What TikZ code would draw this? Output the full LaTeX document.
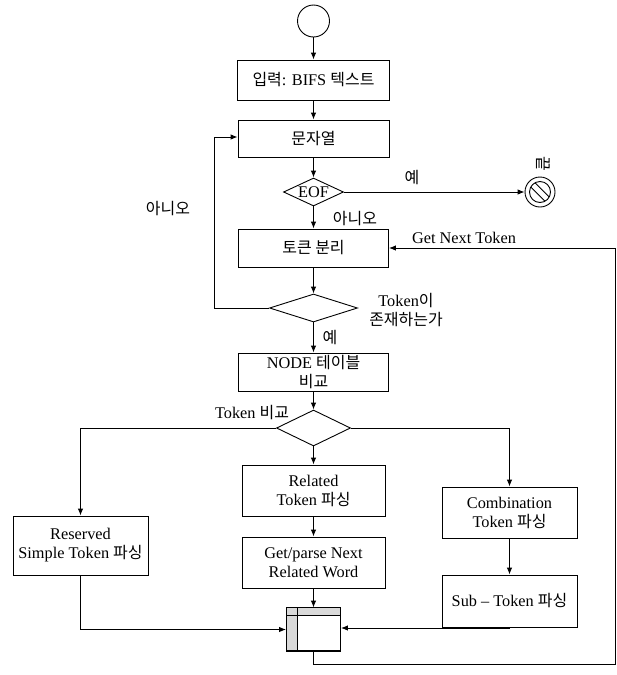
\documentclass[tikz,border=0pt]{standalone}
\usepackage{fontspec}
\setmainfont{Liberation Serif}
\newfontfamily\kr[Scale=0.98]{Noto Sans CJK KR}
\usetikzlibrary{shapes.geometric,arrows.meta}

\begin{document}
\begin{tikzpicture}[x=1pt,y=-1pt,line width=0.9pt,
  font=\fontsize{16.3}{19}\selectfont,
  box/.style={draw,rectangle,inner sep=0pt,align=center},
  dia/.style={draw,diamond,inner sep=0pt,aspect=2.5},
  arr/.style={-{Latex[length=7pt,width=5.5pt]}},
  lbl/.style={inner sep=0pt,align=center}]
\useasboundingbox (0,0) rectangle (617,675);

% main column
\node[draw,circle,minimum size=32pt,inner sep=0pt] (start) at (313.5,21) {};
\node[box,minimum width=152pt,minimum height=40pt] (input) at (313.5,80) {{\kr 입력}: BIFS {\kr 텍스트}};
\node[box,minimum width=151pt,minimum height=37pt] (str) at (313.5,138.5) {\kr 문자열};
\node[dia,minimum width=60pt,minimum height=28pt] (eof) at (313.5,192) {EOF};
\node[box,minimum width=150pt,minimum height=38pt] (split) at (313.5,248) {\kr 토큰 분리};
\node[dia,minimum width=88pt,minimum height=28pt] (exist) at (313.5,308) {};
\node[box,minimum width=150pt,minimum height=38pt] (nodecmp) at (313.5,372) {NODE {\kr 테이블}\\{\kr 비교}};
\node[dia,minimum width=74pt,minimum height=36pt] (cmp) at (313.5,428) {};
\node[box,minimum width=143pt,minimum height=51pt] (related) at (313.5,490.5) {Related\\Token {\kr 파싱}};
\node[box,minimum width=143pt,minimum height=51pt] (getnext) at (313.5,562.5) {Get/parse Next\\Related Word};
\node[box,minimum width=54pt,minimum height=43pt] (join) at (313.5,629.5) {};

% side branches
\node[box,minimum width=135pt,minimum height=59pt] (reserved) at (80.5,545.5) {Reserved\\Simple Token {\kr 파싱}};
\node[box,minimum width=135pt,minimum height=51pt] (comb) at (509.5,512.5) {Combination\\Token {\kr 파싱}};
\node[box,minimum width=135pt,minimum height=52pt] (sub) at (509.5,601) {Sub -- Token {\kr 파싱}};

% end-of-file terminator (prohibition sign)
\node[draw,circle,minimum size=30pt,inner sep=0pt] (end) at (540,192) {};
\begin{scope}[shift={(end.center)}]
  \draw (0,0) circle (10.5pt);
  \draw (-4.99,-9.23) -- (9.23,4.99);
  \draw (-9.23,-4.99) -- (4.99,9.23);
\end{scope}
\node[lbl,rotate=-90] (endlbl) at (543,164) {\kr 끝};

% join box strips
\begin{scope}[shift={(join.north west)}]
  \fill[gray!30] (0,0) rectangle (11,43);
  \fill[gray!30] (11,0) rectangle (54,8);
  \draw (11,0) -- (11,43);
  \draw (0,8) -- (54,8);
  \draw (0,0) rectangle (54,43);
\end{scope}

% labels
\node[lbl] (yes1) at (412,178) {\kr 예};
\node[lbl] (no1) at (355,219) {\kr 아니오};
\node[lbl] (no2) at (168,209) {\kr 아니오};
\node[lbl] (ask) at (406,310) {Token{\kr 이}\\{\kr 존재하는가}};
\node[lbl] (yes2) at (330,338) {\kr 예};
\node[lbl] (cmplbl) at (252,413) {Token {\kr 비교}};
\node[lbl] (gnt) at (464,238) {Get Next Token};

% connectors
\coordinate (rb) at (615,664);
\draw[arr] (start) -- (input);
\draw[arr] (input) -- (str);
\draw[arr] (str) -- (eof);
\draw[arr] (eof.east) -- (end.west);
\draw[arr] (eof) -- (split);
\draw[arr] (split) -- (exist);
\draw[arr] (exist.west) -| ([xshift=-23pt,yshift=1.5pt]str.west) -- ([yshift=1.5pt]str.west);
\draw[arr] (exist) -- (nodecmp);
\draw[arr] (nodecmp) -- (cmp);
\draw[arr] (cmp.west) -| (reserved.north);
\draw[arr] (cmp) -- (related);
\draw[arr] (cmp.east) -| (comb.north);
\draw[arr] (related) -- (getnext);
\draw[arr] (getnext) -- (join);
\draw[arr] (comb) -- (sub);
\draw[arr] (reserved.south) |- (join.west);
\draw[arr] (sub.south) |- ([yshift=1.5pt]join.east);
\draw[arr] (join.south) |- (rb) |- (split.east);
\end{tikzpicture}
\end{document}
